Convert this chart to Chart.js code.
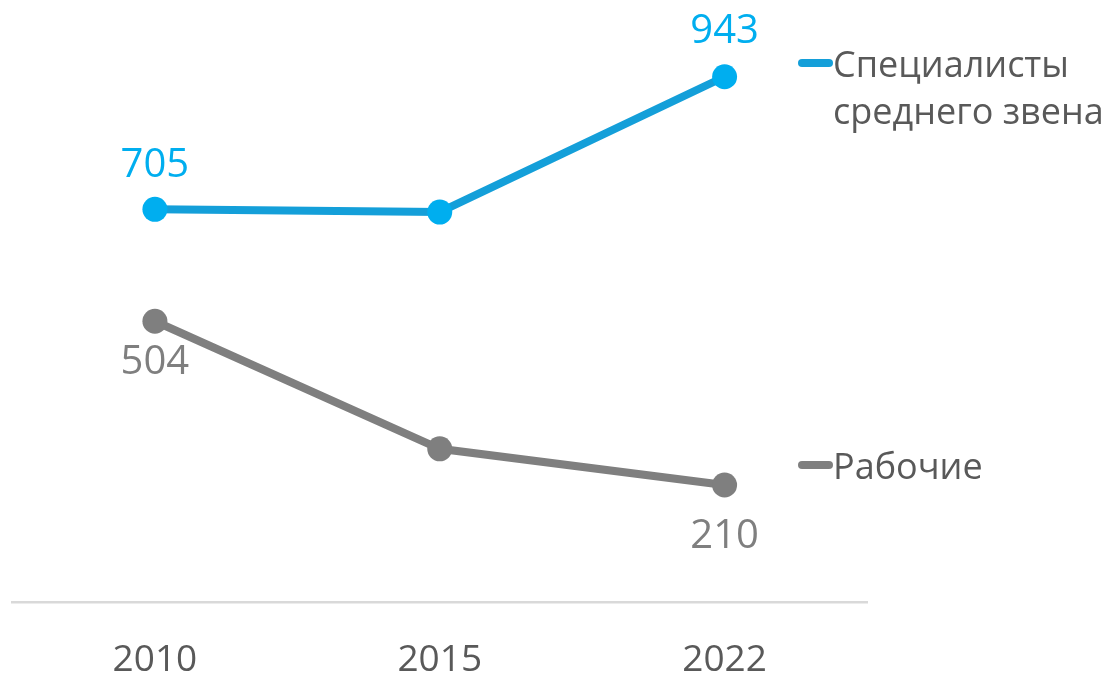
<!DOCTYPE html>
<html>
<head>
<meta charset="utf-8">
<script src="https://cdn.jsdelivr.net/npm/chart.js@4.4.1/dist/chart.umd.min.js"></script>
<style>
    html, body { margin: 0; padding: 0; background: #fff; }
    #wrap { width: 1112px; height: 675px; }
</style>
</head>
<body>
<div id="wrap"><canvas id="chart"></canvas></div>
<script>
'use strict'

let years = ['2010', '2015', '2022'];
let specialists = [705, 700, 943];
let workers = [504, 275, 210];
// labels shown next to points (null = no label)
let specialistsLabels = ['705', null, '943'];
let workersLabels = ['504', null, '210'];
let seriesNames = [['Специалисты', 'среднего звена'], ['Рабочие']];

const blue = '#149fd9';
const bluePoint = '#00aeef';
const gray = '#7f7f7f';
const font = '"Open Sans", sans-serif';

// draws the value labels above / below the points
const pointLabels = {
    id: 'pointLabels',
    afterDatasetsDraw(chart) {
        let ctx = chart.ctx;
        ctx.save();
        ctx.font = '40px ' + font;
        ctx.textAlign = 'center';
        ctx.textBaseline = 'middle';
        chart.data.datasets.forEach((ds, i) => {
            let meta = chart.getDatasetMeta(i);
            meta.data.forEach((pt, j) => {
                let txt = ds.pointText[j];
                if (txt === null) return;
                ctx.fillStyle = ds.textColor;
                ctx.fillText(txt, pt.x, pt.y + ds.textShift[j]);
            });
        });
        ctx.restore();
    }
};

// legend entries on the right, Excel style
const sideLegend = {
    id: 'sideLegend',
    afterDraw(chart, args, opts) {
        let ctx = chart.ctx;
        ctx.save();
        ctx.font = '36px ' + font;
        ctx.textBaseline = 'alphabetic';
        ctx.textAlign = 'left';
        chart.data.datasets.forEach((ds, i) => {
            let y = opts.rows[i];
            ctx.strokeStyle = ds.borderColor;
            ctx.lineWidth = 8;
            ctx.lineCap = 'round';
            ctx.beginPath();
            ctx.moveTo(opts.x + 4, y);
            ctx.lineTo(opts.x + 31, y);
            ctx.stroke();
            ctx.fillStyle = '#595959';
            seriesNames[i].forEach((line, k) => {
                ctx.fillText(line, opts.x + 35, y + 14 + k * 47);
            });
        });
        ctx.restore();
    }
};

new Chart(document.getElementById('chart'), {
    type: 'line',
    data: {
        labels: years,
        datasets: [
            {
                label: seriesNames[0].join(' '),
                data: specialists,
                borderColor: blue,
                backgroundColor: bluePoint,
                pointBackgroundColor: bluePoint,
                pointBorderWidth: 0,
                borderWidth: 8,
                pointRadius: 12.5,
                tension: 0,
                pointText: specialistsLabels,
                textColor: bluePoint,
                textShift: [-44, 0, -45]
            },
            {
                label: seriesNames[1][0],
                data: workers,
                borderColor: gray,
                backgroundColor: gray,
                pointBackgroundColor: gray,
                pointBorderWidth: 0,
                borderWidth: 8,
                pointRadius: 12.5,
                tension: 0,
                pointText: workersLabels,
                textColor: gray,
                textShift: [41, 0, 52]
            }
        ]
    },
    options: {
        responsive: true,
        maintainAspectRatio: false,
        animation: false,
        layout: { padding: { left: 9, right: 245, top: 45, bottom: -44 } },
        plugins: {
            legend: { display: false },
            tooltip: { enabled: false },
            sideLegend: { x: 798, rows: [63, 465] }
        },
        scales: {
            x: {
                offset: true,
                grid: { display: false, drawTicks: false },
                border: { display: true, color: '#d9d9d9', width: 2.5 },
                ticks: {
                    color: '#595959',
                    padding: 40,
                    font: { family: font, size: 37, lineHeight: 1 }
                }
            },
            y: {
                display: false,
                min: 0,
                max: 1000
            }
        }
    },
    plugins: [pointLabels, sideLegend]
});
</script>
</body>
</html>
